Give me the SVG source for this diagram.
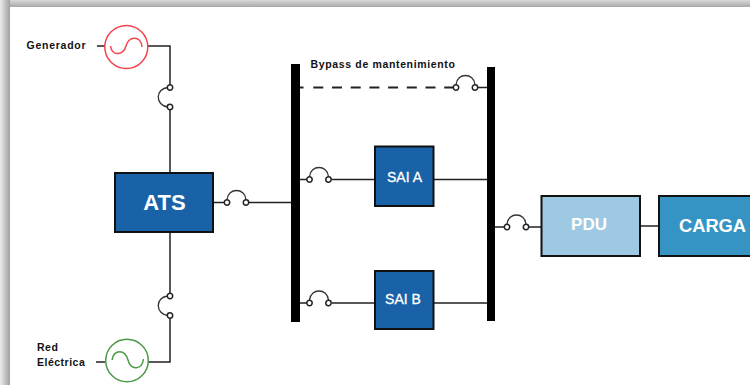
<svg xmlns="http://www.w3.org/2000/svg" width="750" height="385" viewBox="0 0 750 385">
<defs>
<linearGradient id="topShade" x1="0" y1="0" x2="0" y2="1"><stop offset="0" stop-color="#d8d8d8"/><stop offset="1" stop-color="#a8a8a8"/></linearGradient>
<linearGradient id="leftShade" x1="0" y1="0" x2="1" y2="0"><stop offset="0" stop-color="#ececec"/><stop offset="1" stop-color="#a0a0a0"/></linearGradient>
<g id="swH"><path d="M0-3C1-15 18-15 19-3" fill="none" stroke="#333" stroke-width="1.300"/><circle cx="0" cy="0" r="2.700" fill="#fff" stroke="#222" stroke-width="1.500"/><circle cx="19" cy="0" r="2.700" fill="#fff" stroke="#222" stroke-width="1.500"/></g>
<g id="swV"><path d="M-2 0C-15 1-15 18-2 19.500" fill="none" stroke="#333" stroke-width="1.300"/><circle cx="0" cy="0" r="2.700" fill="#fff" stroke="#222" stroke-width="1.500"/><circle cx="0" cy="19.500" r="2.700" fill="#fff" stroke="#222" stroke-width="1.500"/></g>
</defs>
<style>
.w{stroke:#222;stroke-width:1.500;fill:none}
.bar{fill:#000}
.box{stroke:#111;stroke-width:2}
.blue{fill:#1a62a8}
text{font-family:"Liberation Sans",Arial,sans-serif}
.lbl{font-size:10.500px;font-weight:700;fill:#111}
.in{fill:#fff;font-weight:700;text-anchor:middle}
.sai{fill:#fff;text-anchor:middle;font-size:14px;stroke:#fff;stroke-width:.3px}
</style>
<rect width="750" height="385" fill="#fff"/>
<rect width="750" height="7" fill="url(#topShade)"/>
<rect width="10" height="385" fill="url(#leftShade)"/>
<g id="connectors">
<path class="w" d="M97 46H105M148 46H170V85M170 110V173M170 232V293M170 318V362H148M96 362H105"/>
<path class="w" d="M213 202.500H224M249 202.500H291M300 179.500H307M332 179.500H374M433 179.500H487M300 303H307M332 303H374M433 303H487M478 87.500H487M495 227H504M529 227H541M640 226H659"/>
<path class="w" d="M300 87.500H303.500M313.300 87.500H453" stroke-dasharray="10 8.700" style="stroke-width:1.800"/>
<g id="sw1"><use href="#swV" x="170" y="87.500"/></g>
<g id="sw2"><use href="#swV" x="170" y="296"/></g>
<g id="sw3"><use href="#swH" x="227" y="202.500"/></g>
<g id="sw4"><use href="#swH" x="309.500" y="179.500"/></g>
<g id="sw5"><use href="#swH" x="309.500" y="303"/></g>
<g id="sw6"><use href="#swH" x="456" y="87.500"/></g>
<g id="sw7"><use href="#swH" x="507" y="227"/></g>
</g>
<g id="generador">
<text class="lbl" x="26.500" y="49" style="letter-spacing:.75px">Generador</text>
<circle cx="126.300" cy="47" r="21.500" fill="#fff" stroke="#f4444c" stroke-width="1.500"/>
<path d="M110.500 46C112 56 123 56 126 46C128 36 141 35 142 47" fill="none" stroke="#f4444c" stroke-width="1.500"/>
</g>
<g id="red">
<text class="lbl" x="37" y="351" style="letter-spacing:.5px">Red</text>
<text class="lbl" x="37" y="366" style="letter-spacing:.5px">Eléctrica</text>
<circle cx="127" cy="360.500" r="21.300" fill="#fff" stroke="#4c9a48" stroke-width="1.500"/>
<path d="M112 360C114 349 125 349 128 360C131 371 142 370 143.500 359" fill="none" stroke="#4c9a48" stroke-width="1.500"/>
</g>
<g id="ats">
<rect class="box blue" x="115" y="173" width="98" height="59"/>
<text class="in" x="164.500" y="210" font-size="22">ATS</text>
</g>
<g id="bus-left"><rect class="bar" x="291" y="64" width="9" height="258"/></g>
<g id="bus-right"><rect class="bar" x="487" y="67" width="8" height="254"/></g>
<g id="bypass"><text class="lbl" x="310.500" y="68" style="letter-spacing:.65px">Bypass de mantenimiento</text></g>
<g id="sai-a">
<rect class="box blue" x="375" y="146.500" width="58.500" height="59.500"/>
<text class="sai" x="404.500" y="181.500">SAI A</text>
</g>
<g id="sai-b">
<rect class="box blue" x="375" y="271" width="58.500" height="58"/>
<text class="sai" x="403" y="304">SAI B</text>
</g>
<g id="pdu">
<rect class="box" fill="#9dcae2" x="541.500" y="196" width="98.500" height="60"/>
<text class="in" x="589" y="229.500" font-size="17">PDU</text>
</g>
<g id="carga">
<rect class="box" fill="#3594c3" x="659" y="196" width="100" height="60"/>
<text class="in" x="712.500" y="231.500" font-size="18.300">CARGA</text>
</g>
</svg>
